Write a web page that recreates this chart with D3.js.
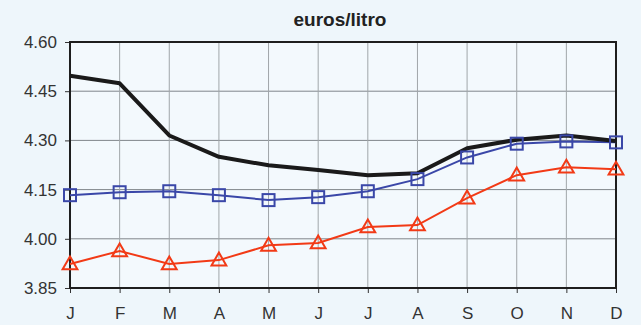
<!DOCTYPE html>
<html><head><meta charset="utf-8">
<script src="https://cdn.jsdelivr.net/npm/d3@7"></script>
<style>body{margin:0;background:#eef6fb;} svg{display:block;}</style>
</head><body>
<svg id="c" width="641" height="325"></svg>
<script>
const months = ["J","F","M","A","M","J","J","A","S","O","N","D"];
const yTicks = [3.85, 4.00, 4.15, 4.30, 4.45, 4.60];
const seriesBlack = [4.497, 4.474, 4.315, 4.250, 4.224, 4.210, 4.194, 4.200, 4.276, 4.302, 4.315, 4.298];
const seriesBlue  = [4.133, 4.142, 4.145, 4.133, 4.118, 4.127, 4.145, 4.182, 4.248, 4.290, 4.297, 4.294];
const seriesRed   = [3.923, 3.963, 3.923, 3.935, 3.980, 3.987, 4.036, 4.042, 4.124, 4.194, 4.218, 4.212];
const title = "euros/litro";

const svg = d3.select("#c");
const L = 70, R = 616, T = 42, B = 288;
svg.append("rect").attr("width",641).attr("height",325).attr("fill","#eef6fb");
svg.append("rect").attr("x",L).attr("y",T).attr("width",R-L).attr("height",B-T).attr("fill","#f3f9fd");

const x = d3.scalePoint().domain(d3.range(months.length)).range([L, R]);
const y = d3.scaleLinear().domain([3.85, 4.60]).range([B, T]);

// grid
svg.append("g").selectAll("line.h").data(yTicks).join("line")
  .attr("x1",L).attr("x2",R).attr("y1",d=>y(d)).attr("y2",d=>y(d))
  .attr("stroke","#80868b").attr("stroke-width",1);
svg.append("g").selectAll("line.v").data(d3.range(months.length)).join("line")
  .attr("x1",d=>x(d)).attr("x2",d=>x(d)).attr("y1",T).attr("y2",B)
  .attr("stroke","#a0a6aa").attr("stroke-width",1);

// axes
const yAxis = d3.axisLeft(y).tickValues(yTicks).tickFormat(d3.format(".2f")).tickSize(5).tickPadding(8);
const gy = svg.append("g").attr("transform",`translate(${L},0)`).call(yAxis);
const xAxis = d3.axisBottom(x).tickFormat(i=>months[i]).tickSize(5).tickPadding(14);
const gx = svg.append("g").attr("transform",`translate(0,${B})`).call(xAxis);
[gy,gx].forEach(g=>{
  g.select(".domain").remove();
  g.selectAll(".tick line").attr("stroke","#333").attr("stroke-width",1);
  g.selectAll("text").attr("font-family","Liberation Sans, Arial, sans-serif").attr("font-size",17).attr("fill","#333");
});

// frame
svg.append("rect").attr("x",L).attr("y",T).attr("width",R-L).attr("height",B-T)
  .attr("fill","none").attr("stroke","#1e1e1e").attr("stroke-width",2);

const line = d3.line().x((d,i)=>x(i)).y(d=>y(d));

svg.append("path").datum(seriesBlue).attr("d",line).attr("fill","none")
  .attr("stroke","#3a47a8").attr("stroke-width",2);
svg.append("path").datum(seriesBlack).attr("d",line).attr("fill","none")
  .attr("stroke","#1a1a1a").attr("stroke-width",4).attr("stroke-linejoin","round");
svg.append("path").datum(seriesRed).attr("d",line).attr("fill","none")
  .attr("stroke","#f23a16").attr("stroke-width",2);

svg.append("g").selectAll("rect").data(seriesBlue).join("rect")
  .attr("x",(d,i)=>x(i)-6).attr("y",d=>y(d)-6).attr("width",12).attr("height",12)
  .attr("fill","none").attr("stroke","#3a47a8").attr("stroke-width",2);

const tri = d3.symbol().type(d3.symbolTriangle).size(95);
svg.append("g").selectAll("path").data(seriesRed).join("path")
  .attr("d",tri).attr("transform",(d,i)=>`translate(${x(i)},${y(d)+1})`)
  .attr("fill","none").attr("stroke","#f23a16").attr("stroke-width",2);

svg.append("text").attr("x",340).attr("y",26).attr("text-anchor","middle")
  .attr("font-family","Liberation Sans, Arial, sans-serif").attr("font-weight","bold")
  .attr("font-size",19).attr("fill","#222").text(title);
</script>
</body></html>
